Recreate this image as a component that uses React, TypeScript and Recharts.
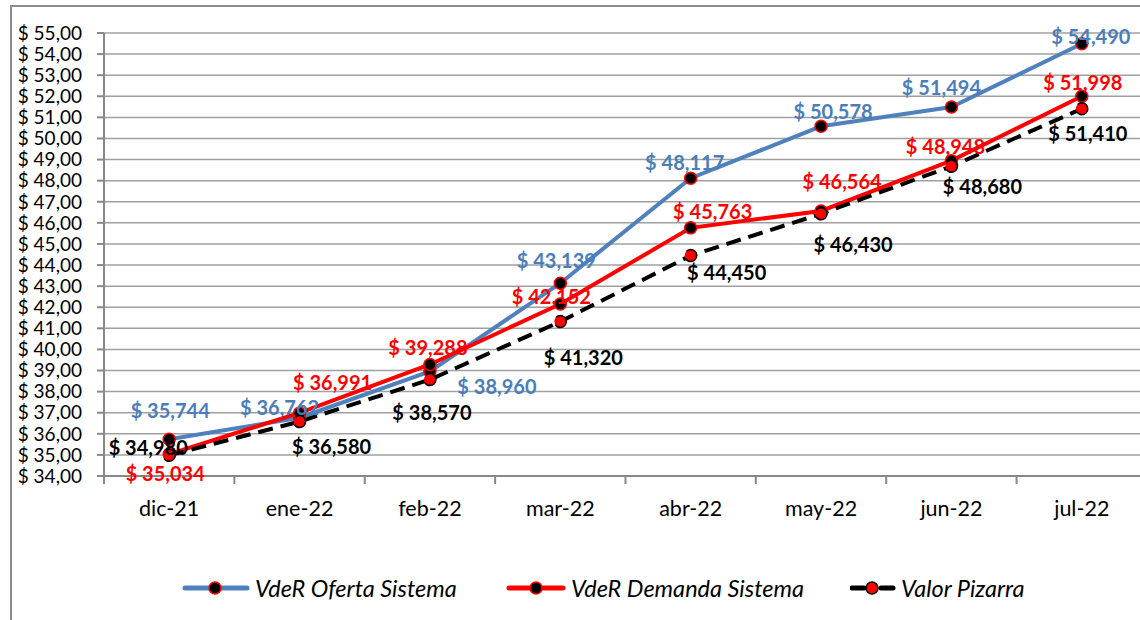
import { LineChart, Line, XAxis, YAxis, CartesianGrid, LabelList } from "recharts";

const months = ["dic-21", "ene-22", "feb-22", "mar-22", "abr-22", "may-22", "jun-22", "jul-22"];
const oferta = [35.744, 36.762, 38.96, 43.139, 48.117, 50.578, 51.494, 54.49];
const demanda = [35.034, 36.991, 39.288, 42.152, 45.763, 46.564, 48.948, 51.998];
const pizarra = [34.98, 36.58, 38.57, 41.32, 44.45, 46.43, 48.68, 51.41];
const yTicks = [34, 35, 36, 37, 38, 39, 40, 41, 42, 43, 44, 45, 46, 47, 48, 49, 50, 51, 52, 53, 54, 55];
const seriesNames = ["VdeR Oferta Sistema", "VdeR Demanda Sistema", "Valor Pizarra"];

// label nudges (dx, dy) so the value labels sit where the original put them
const ofertaOffsets = [[1, -29], [-20, -11], [67, 15], [-4, -23], [-6, -16], [12, -15], [-10, -20], [9, -8]];
const demandaOffsets = [[-4, 19], [33, -31], [-2, -17], [-9, -8], [22, -17], [21, -30], [-6, -15], [1, -14]];
const pizarraOffsets = [[-21, -8], [32, 24], [2, 32], [23, 35], [36, 16], [32, 30], [31, 20], [6, 24]];
// legend item left edges
const legendX = [182, 506, 850];

const data = months.map((m, i) => ({ month: m, oferta: oferta[i], demanda: demanda[i], pizarra: pizarra[i] }));

const BLUE = "#4f81bd";
const RED = "#ff0000";
const FONT = "Lato, 'Noto Sans', sans-serif";
const HALF_BAND = 65.2;

const money = (v: number, d: number) => "$ " + v.toFixed(d).replace(".", ",");

const makeLabel = (offsets: number[][], color: string) => (p: any) => {
  const i = p.index ?? 0;
  const [dx, dy] = offsets[i] || [0, 0];
  return (
    <text
      x={Number(p.x) + dx}
      y={Number(p.y) + dy}
      textAnchor="middle"
      dominantBaseline="central"
      fill={color}
      fontFamily={FONT}
      fontWeight={700}
      fontSize={20}
    >
      {money(Number(p.value), 3)}
    </text>
  );
};

const XTick = (props: any) => {
  const { x, y, payload, index } = props;
  return (
    <g>
      <line x1={x - HALF_BAND} x2={x - HALF_BAND} y1={y} y2={y + 8} stroke="#888" strokeWidth={2} />
      {index === months.length - 1 && (
        <line x1={x + HALF_BAND} x2={x + HALF_BAND} y1={y} y2={y + 8} stroke="#888" strokeWidth={2} />
      )}
      <text x={x} y={y + 32} textAnchor="middle" dominantBaseline="central" fill="#000" fontFamily={FONT} fontSize={21.5}>
        {payload.value}
      </text>
    </g>
  );
};

const dot = (fill: string, stroke: string) => ({ r: 6, fill, stroke, strokeWidth: 1.5 });

function LegendIcon({ kind }: { kind: number }) {
  if (kind === 2) {
    return (
      <svg width={46} height={20}>
        <line x1={2} x2={14} y1={10} y2={10} stroke="#000" strokeWidth={5} strokeLinecap="round" />
        <line x1={31} x2={43} y1={10} y2={10} stroke="#000" strokeWidth={5} strokeLinecap="round" />
        <circle cx={22} cy={10} r={6} fill={RED} stroke="#000" strokeWidth={1.5} />
      </svg>
    );
  }
  const color = kind === 0 ? BLUE : RED;
  return (
    <svg width={kind === 0 ? 68 : 60} height={20}>
      <line x1={3} x2={kind === 0 ? 65 : 57} y1={10} y2={10} stroke={color} strokeWidth={5} strokeLinecap="round" />
      <circle cx={kind === 0 ? 33 : 30} cy={10} r={6} fill="#000" stroke={RED} strokeWidth={1.5} />
    </svg>
  );
}

export default function App() {
  return (
    <div style={{ position: "absolute", left: 0, top: 0, width: 1140, height: 620, overflow: "hidden", background: "#fff" }}>
      <div
        style={{
          position: "absolute",
          left: 10,
          top: 5,
          width: 1200,
          height: 700,
          borderLeft: "2px solid #8c8c8c",
          borderTop: "2px solid #8c8c8c",
        }}
      />
      <div style={{ position: "absolute", left: 0, top: 0 }}>
        <LineChart width={1147} height={620} data={data} margin={{ top: 33, right: 0, bottom: 100, left: 0 }}>
          <CartesianGrid vertical={false} stroke="#a0a0a0" strokeWidth={1.5} />
          <XAxis
            dataKey="month"
            padding={{ left: HALF_BAND, right: HALF_BAND }}
            tickLine={false}
            tickSize={0}
            tickMargin={0}
            height={44}
            axisLine={{ stroke: "#888", strokeWidth: 2 }}
            tick={<XTick />}
            interval={0}
          />
          <YAxis
            width={104}
            domain={[34, 55]}
            ticks={yTicks}
            interval={0}
            tickSize={7}
            tickMargin={15}
            tickLine={{ stroke: "#888", strokeWidth: 2 }}
            axisLine={{ stroke: "#888", strokeWidth: 2 }}
            tick={{ fill: "#000", fontFamily: FONT, fontSize: 19 }}
            tickFormatter={(v: number) => money(v, 2)}
          />
          <Line
            dataKey="oferta"
            name={seriesNames[0]}
            stroke={BLUE}
            strokeWidth={4}
            dot={dot("#000", RED)}
            isAnimationActive={false}
          >
            <LabelList dataKey="oferta" content={makeLabel(ofertaOffsets, "#4a7ebb")} />
          </Line>
          <Line
            dataKey="demanda"
            name={seriesNames[1]}
            stroke={RED}
            strokeWidth={4}
            dot={dot("#000", RED)}
            isAnimationActive={false}
          >
            <LabelList dataKey="demanda" content={makeLabel(demandaOffsets, RED)} />
          </Line>
          <Line
            dataKey="pizarra"
            name={seriesNames[2]}
            stroke="#000"
            strokeWidth={4}
            strokeDasharray="15 8"
            dot={dot(RED, "#000")}
            isAnimationActive={false}
          >
            <LabelList dataKey="pizarra" content={makeLabel(pizarraOffsets, "#000")} />
          </Line>
        </LineChart>
      </div>
      {seriesNames.map((n, i) => (
        <div
          key={n}
          style={{ position: "absolute", left: legendX[i], top: 574, display: "flex", alignItems: "center", fontFamily: FONT }}
        >
          <LegendIcon kind={i} />
          <span style={{ fontStyle: "italic", fontSize: 23.5, marginLeft: 5, color: "#000" }}>{n}</span>
        </div>
      ))}
    </div>
  );
}
